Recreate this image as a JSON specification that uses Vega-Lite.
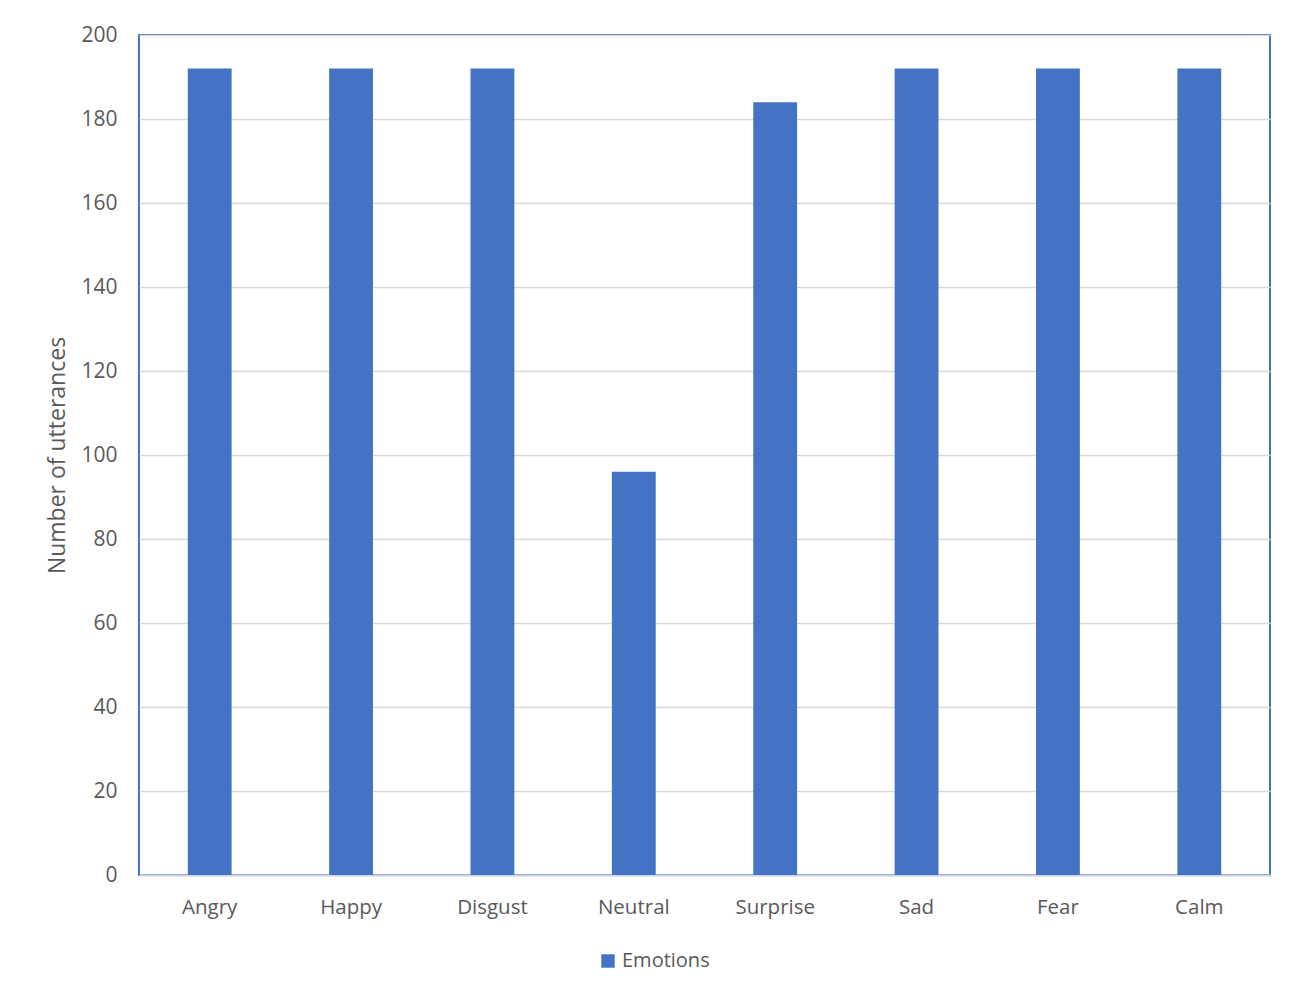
{
  "$schema": "https://vega.github.io/schema/vega-lite/v6.json",
  "width": 1131,
  "height": 840,
  "autosize": "none",
  "padding": {"left": 139, "top": 35, "right": 30, "bottom": 117},
  "background": "white",
  "config": {
    "font": "Open Sans",
    "view": {"stroke": "#4472C4", "strokeWidth": 2}
  },
  "data": {
    "values": [
      {"emotion": "Angry", "count": 192, "series": "Emotions"},
      {"emotion": "Happy", "count": 192, "series": "Emotions"},
      {"emotion": "Disgust", "count": 192, "series": "Emotions"},
      {"emotion": "Neutral", "count": 96, "series": "Emotions"},
      {"emotion": "Surprise", "count": 184, "series": "Emotions"},
      {"emotion": "Sad", "count": 192, "series": "Emotions"},
      {"emotion": "Fear", "count": 192, "series": "Emotions"},
      {"emotion": "Calm", "count": 192, "series": "Emotions"}
    ]
  },
  "mark": {"type": "bar"},
  "encoding": {
    "x": {
      "field": "emotion",
      "type": "nominal",
      "sort": null,
      "scale": {"paddingInner": 0.69, "paddingOuter": 0.345},
      "axis": {
        "title": null,
        "labelAngle": 0,
        "labelFontSize": 20.5,
        "labelColor": "#595959",
        "labelPadding": 22,
        "ticks": false,
        "domainColor": "#cdd4e2",
        "domainWidth": 2
      }
    },
    "y": {
      "field": "count",
      "type": "quantitative",
      "scale": {"domain": [0, 200]},
      "axis": {
        "title": "Number of utterances",
        "titleFontSize": 23,
        "titleFontWeight": "normal",
        "titleColor": "#595959",
        "titlePadding": 11,
        "values": [0, 20, 40, 60, 80, 100, 120, 140, 160, 180, 200],
        "labelFontSize": 21,
        "labelColor": "#595959",
        "labelPadding": 22,
        "ticks": false,
        "domain": false,
        "gridColor": "#d9d9d9",
        "gridWidth": 1.5
      }
    },
    "color": {
      "field": "series",
      "type": "nominal",
      "scale": {"range": ["#4472C4"]},
      "legend": {
        "title": null,
        "orient": "none",
        "legendX": 459,
        "legendY": 916,
        "direction": "horizontal",
        "symbolType": "square",
        "symbolSize": 180,
        "symbolStrokeWidth": 0,
        "labelFontSize": 20,
        "labelColor": "#595959",
        "labelOffset": 4
      }
    }
  }
}
